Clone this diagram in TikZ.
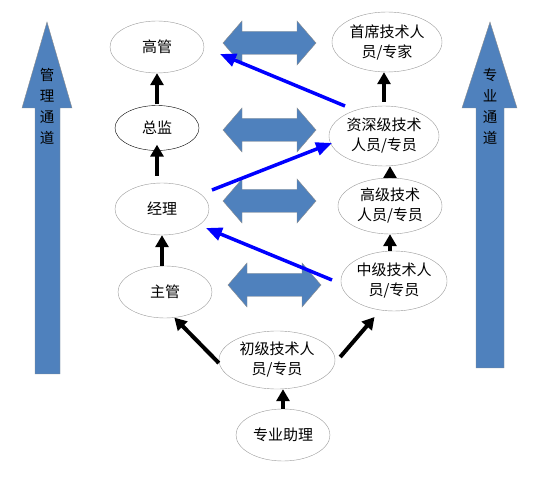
\documentclass[tikz,border=0pt]{standalone}
\usepackage{fontspec}
\setmainfont{Noto Sans CJK SC}
\usepackage{xcolor}
\usetikzlibrary{arrows.meta,shapes.geometric}
\definecolor{chanblue}{RGB}{79,129,189}

\begin{document}
\begin{tikzpicture}[x=1pt,y=-1pt,font=\fontsize{15}{20}\selectfont,
  post/.style={draw=black!40,ellipse,inner sep=0pt,align=center,minimum width=94,minimum height=52},
  lift/.style={draw=black!45,fill=chanblue},
  chan/.style={align=center,font=\fontsize{14.5}{21}\selectfont},
  up/.style={-{Triangle[length=12pt,width=13pt]},line width=4pt},
  cross/.style={-{Triangle[length=16pt,width=13pt]},line width=3.5pt,blue}]
\useasboundingbox (0,0) rectangle (558,492);
% the two channels
\draw[lift] (47,22) -- (72,108) -- (60,108) -- (60,374) -- (35,374) -- (35,108) -- (22,108) -- cycle;
\draw[lift] (490,22) -- (517,108) -- (504,108) -- (504,368) -- (476,368) -- (476,108) -- (462,108) -- cycle;
\node[chan] (guanli) at (47,106) {管\\理\\通\\道};
\node[chan] (zhuanye) at (490,106) {专\\业\\通\\道};
% double arrows between the two ladders
\foreach \x/\y in {223/43,223/130,223/201,228/285}
  \draw[lift] (\x,\y) -- ++(19,-22) -- ++(0,10.5) -- ++(55,0) -- ++(0,-10.5) -- ++(19,22)
    -- ++(-19,22) -- ++(0,-10.5) -- ++(-55,0) -- ++(0,10.5) -- cycle;
% management ladder
\node[post] (gaoguan) at (157,47) {高管};
\node[post,draw=black,minimum width=84,minimum height=45] (zongjian) at (157,128) {总监};
\node[post] (jingli) at (162,209) {经理};
\node[post] (zhuguan) at (165,292) {主管};
% professional ladder
\node[post,minimum width=116,minimum height=58] (chuji) at (277,360) {初级技术人\\员/专员};
\node[post] (zhuli) at (283,435) {专业助理};
\node[post,minimum width=106,minimum height=60] (zhongji) at (394,281) {中级技术人\\员/专员};
\node[post,minimum width=104,minimum height=56] (gaoji) at (390,206) {高级技术\\人员/专员};
\node[post,minimum width=110,minimum height=60] (zishen) at (384,136) {资深级技术\\人员/专员};
\node[post,minimum width=110,minimum height=60] (shouxi) at (387,42) {首席技术人\\员/专家};
% promotions
\draw[up] ([yshift=1pt]zongjian.north) -- (gaoguan.south);
\draw[up] ([yshift=7pt]jingli.north -| zongjian) -- ([yshift=6pt]zongjian.south);
\draw[up] (zhuguan.north -| jingli) -- (jingli.south);
\draw[up] ([yshift=-3pt]chuji.west) -- (zhuguan.-70);
\draw[up,shorten >=9pt] ([shift={(5,-3)}]chuji.east) -- (zhongji.-115);
\draw[up] (zhuli.north) -- (zhuli.north |- chuji.south);
\draw[up] (gaoji.south |- zhongji.north) -- (gaoji.south);
\draw[up] (gaoji.north) -- (gaoji.north |- zishen.south);
\draw[up] ([yshift=4pt]zishen.north) -- (zishen.north |- shouxi.south);
% switching channels
\draw[cross] ([shift={(-39,-30)}]zishen.center) -- ([shift={(63,7)}]gaoguan.center);
\draw[cross] ([shift={(50,-19)}]jingli.center) -- ([shift={(-52,7)}]zishen.center);
\draw[cross] ([shift={(-62,-1)}]zhongji.center) -- ([shift={(44,19)}]jingli.center);
\end{tikzpicture}
\end{document}
